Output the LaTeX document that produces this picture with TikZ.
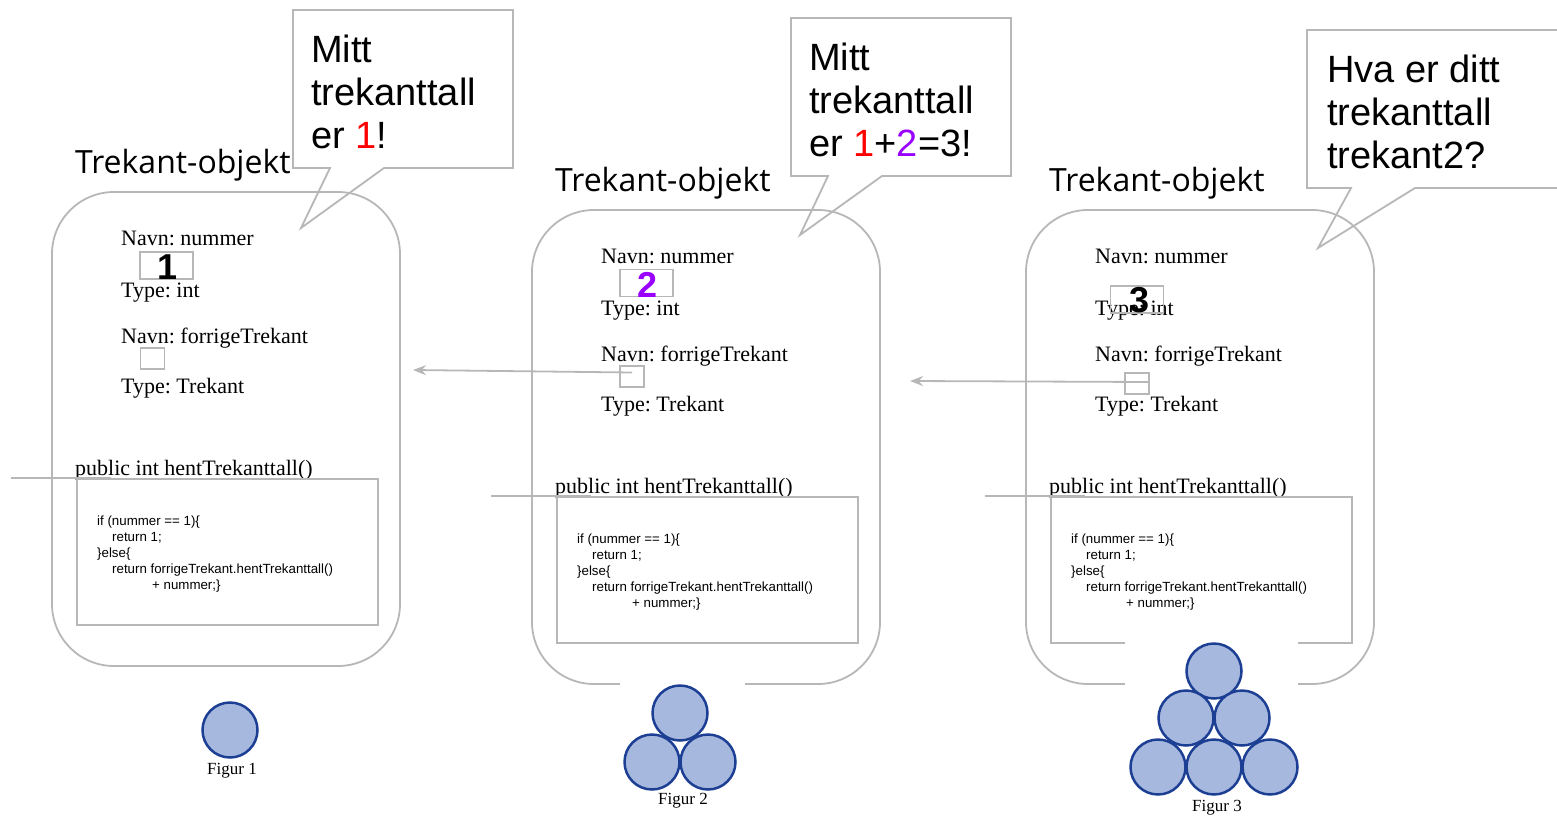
\documentclass[tikz,border=0pt]{standalone}
\usepackage{fontspec}
\setmainfont{Liberation Serif}
\newfontfamily\titlefont{Open Sans}
\newfontfamily\arialfont{Liberation Sans}
\usepackage{tikz}
\usepackage{xcolor}
\usetikzlibrary{positioning, arrows.meta}
\frenchspacing
\definecolor{linjegraa}{HTML}{B7B7B7}
\definecolor{sirkelfyll}{HTML}{A6B8DE}
\definecolor{sirkelkant}{HTML}{1C3F94}
\definecolor{lilla}{HTML}{9900FF}
\tikzstyle{objboks} = [draw=linjegraa, line width=1.8pt, rounded corners=62pt, minimum width=348pt, minimum height=474pt, inner sep=0pt]
\tikzstyle{tittel} = [anchor=base west, inner sep=0pt, font=\titlefont\fontsize{32}{38}\selectfont]
\tikzstyle{felt} = [anchor=base west, inner sep=0pt, font=\fontsize{22}{26}\selectfont]
\tikzstyle{kodeboks} = [draw=linjegraa, line width=1.8pt, minimum width=301pt, minimum height=146pt, inner sep=0pt]
\tikzstyle{kode} = [anchor=base west, inner sep=0pt, align=left, font=\arialfont\fontsize{13.3}{16}\selectfont]
\tikzstyle{verdiboks} = [draw=linjegraa, line width=1.8pt, minimum width=53pt, minimum height=27pt, inner sep=0pt]
\tikzstyle{refboks} = [draw=linjegraa, line width=1.8pt, minimum width=24pt, minimum height=21pt, inner sep=0pt]
\tikzstyle{tall} = [anchor=base, inner sep=0pt, font=\arialfont\bfseries\fontsize{36}{40}\selectfont]
\tikzstyle{boble} = [draw=linjegraa, line width=1.8pt, fill=white]
\tikzstyle{bobletekst} = [anchor=base west, inner sep=0pt, align=left, font=\arialfont\fontsize{38}{43}\selectfont]
\tikzstyle{pil} = [draw=linjegraa, line width=1.8pt, -{Stealth[length=13pt, width=10pt]}]
\tikzstyle{linje} = [draw=linjegraa, line width=1.8pt]
\tikzstyle{kule} = [circle, draw=sirkelkant, fill=sirkelfyll, line width=2.5pt, minimum size=55pt, inner sep=0pt]
\tikzstyle{figtekst} = [anchor=base, inner sep=0pt, font=\fontsize{17}{20}\selectfont]

\begin{document}
\begin{tikzpicture}[x=1pt, y=-1pt]
        \useasboundingbox (0,0) rectangle (1557,816);
        % snakkebobler (base = siste linje)
        \draw[boble] (293,10) -- (513,10) -- (513,168) -- (384,168) -- (301,228) -- (330,168) -- (293,168) -- cycle;
        \node[bobletekst] (boble1) at (311,148) {Mitt\\trekanttall\\er \textcolor{red}{1}!};
        \draw[boble] (791,18) -- (1011,18) -- (1011,176) -- (882,176) -- (800,235) -- (828,176) -- (791,176) -- cycle;
        \node[bobletekst] (boble2) at (809,156) {Mitt\\trekanttall\\er \textcolor{red}{1}+\textcolor{lilla}{2}=3!};
        \draw[boble] (1307,30) -- (1570,30) -- (1570,188) -- (1415,188) -- (1318,248) -- (1351,188) -- (1307,188) -- cycle;
        \node[bobletekst] (boble3) at (1327,168) {Hva er ditt\\trekanttall\\trekant2?};
        % trekant-objektene
        \foreach \i/\dx/\dy in {1/0/0, 2/480/18, 3/974/18}{
        \begin{scope}[shift={(\dx,\dy)}]
        \node[objboks] (obj\i) at (226,429) {};
        \node[tittel] (tittel\i) at (75,173) {Trekant-objekt};
        \node[felt] (navn\i) at (121,245) {Navn: nummer};
        \node[felt] (type\i) at (121,297) {Type: int};
        \node[felt] (navnref\i) at (121,343) {Navn: forrigeTrekant};
        \node[felt] (typeref\i) at (121,393) {Type: Trekant};
        \node[felt] (metode\i) at (75,475) {public int hentTrekanttall()};
        \node[kodeboks] (kode\i) at (227.5,552) {};
        \node[kode] (kodetekst\i) at (97,589) {if (nummer == 1)\{\\\hspace*{15pt}return 1;\\\}else\{\\\hspace*{15pt}return forrigeTrekant.hentTrekanttall()\\\hspace*{55pt}+ nummer;\}};
        \draw[linje] ([xshift=35pt]kode\i.north west) -- ++(-100,0);
        \end{scope}
        }
        % verdier
        \node[verdiboks] (verdi1) at (166.5,265.5) {};
        \node[tall] (tall1) at (168,279) {1};
        \node[verdiboks] (verdi2) at (646.5,283) {};
        \node[tall, text=lilla] (tall2) at (648,297) {2};
        \node[verdiboks] (verdi3) at (1137,299.5) {};
        \node[tall] (tall3) at (1139,312) {3};
        % referanser
        \node[refboks] (ref1) at (152.5,358.5) {};
        \node[refboks] (ref2) at (632,376.5) {};
        \node[refboks] (ref3) at (1137,383.5) {};
        \coordinate (mal1) at (413,370);
        \coordinate (mal2) at (910,381);
        \draw[pil] ([yshift=4pt]ref2.center) -- (mal1);
        \draw[pil] ([yshift=1.5pt]ref3.east) -- (mal2);
        % figurene
        \fill[white] (620,676) rectangle (745,816);
        \fill[white] (1125,636) rectangle (1298,816);
        \node[kule] (k1) at (230,730) {};
        \node[figtekst] (fig1) at (232,774) {Figur 1};
        \node[kule] (k2a) at (680,713) {};
        \node[kule] (k2b) at (652,762) {};
        \node[kule] (k2c) at (708,762) {};
        \node[figtekst] (fig2) at (683,804) {Figur 2};
        \node[kule] (k3a) at (1214,671) {};
        \node[kule] (k3b) at (1186,718) {};
        \node[kule] (k3c) at (1242,718) {};
        \node[kule] (k3d) at (1158,767) {};
        \node[kule] (k3e) at (1214,767) {};
        \node[kule] (k3f) at (1270,767) {};
        \node[figtekst] (fig3) at (1217,811) {Figur 3};
\end{tikzpicture}
\end{document}
